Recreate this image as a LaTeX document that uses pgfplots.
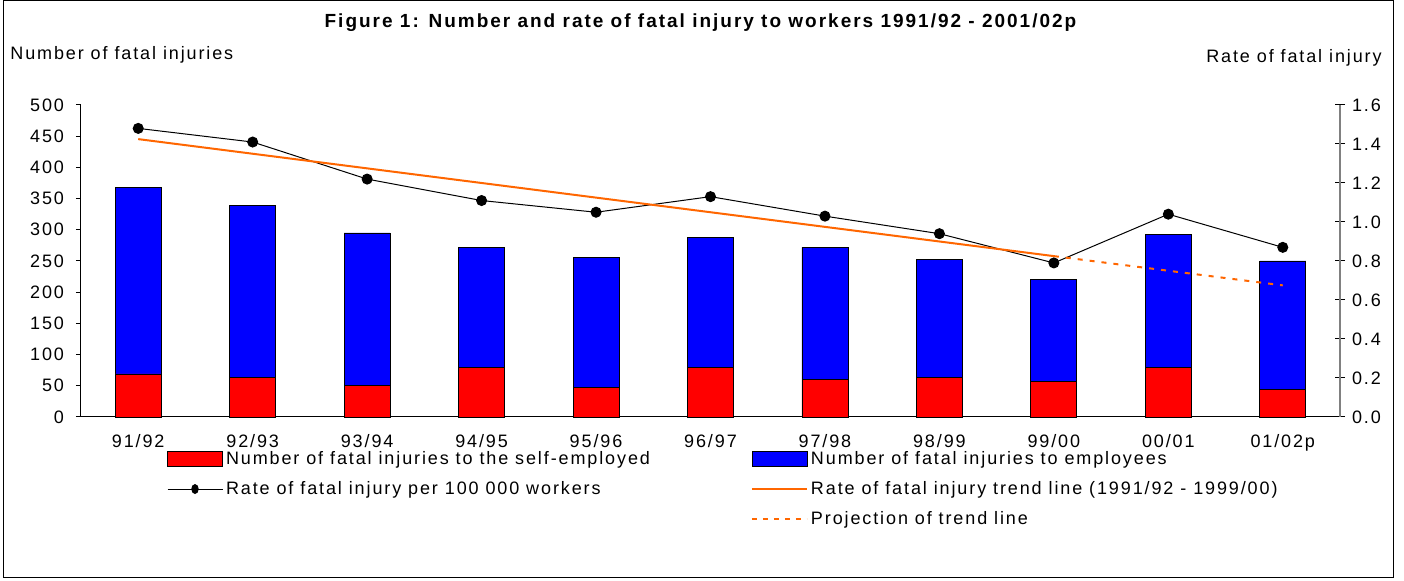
\documentclass[border=0pt]{standalone}
\usepackage{fontspec}
\setmainfont{Liberation Sans}[LetterSpace=10.5]
\usepackage{pgfplots}
\usepackage{pgfplotstable}
\pgfplotsset{compat=1.18}
\definecolor{trendc}{HTML}{FF6600}
\definecolor{axgray}{HTML}{808080}

\pgfplotstableread{
x self emp rate
0 69 299 1.48
1 63 276 1.41
2 51 244 1.22
3 80 192 1.11
4 48 208 1.05
5 80 208 1.13
6 60 212 1.03
7 64 189 0.94
8 57 164 0.79
9 80 212 1.04
10 44 206 0.87
}\data

\pgfplotstableread{
x y
0 1.425
8 0.825
}\trend

\pgfplotstableread{
x y
8 0.825
10 0.675
}\proj

\begin{document}
\begin{tikzpicture}[font=\fontsize{9}{11}\selectfont]
\path (-40.5pt,-82pt) rectangle (661.5pt,208.5pt);
\draw[black,line width=0.5pt] (-38.5pt,-80.5pt) rectangle (656pt,208pt);

\begin{axis}[
  at={(0pt,0pt)}, anchor=south west,
  scale only axis, width=629.5pt, height=156pt,
  xmin=-0.5, xmax=10.5, ymin=0, ymax=500,
  axis x line*=bottom, axis y line*=left,
  axis line style={black, line width=0.5pt},
  ytick={0,50,...,500},
  xtick={0,...,10},
  xticklabels={91/92,92/93,93/94,94/95,95/96,96/97,97/98,98/99,99/00,00/01,01/02p},
  xticklabel style={yshift=-2.5pt},
  yticklabel style={xshift=-2.5pt},
  major x tick style={draw=none},
  extra x ticks={-0.5,0.5,...,10.5},
  extra x tick labels={},
  extra x tick style={major tick length=2.5pt, tick style={black,line width=0.5pt}},
  tick align=outside,
  major tick length=2.5pt,
  tick style={black, line width=0.5pt},
  /pgf/number format/assume math mode=true,
  ybar stacked, bar width=23pt,
  every axis plot/.append style={draw=black, line width=0.4pt},
  clip=false,
]
\addplot[fill=red] table[x=x,y=self] {\data};
\addplot[fill=blue] table[x=x,y=emp] {\data};
\end{axis}

\begin{axis}[
  at={(0pt,0pt)}, anchor=south west,
  scale only axis, width=629.5pt, height=156pt,
  xmin=-0.5, xmax=10.5, ymin=0, ymax=1.6,
  axis x line=none, axis y line*=right,
  axis line style={axgray, line width=0.8pt},
  ytick={0,0.2,...,1.6},
  yticklabel style={/pgf/number format/.cd, fixed, fixed zerofill, precision=1},
  /pgf/number format/assume math mode=true,
  tick align=center,
  major tick length=5pt,
  tick style={black, line width=0.5pt},
  clip=false,
  legend columns=2,
  legend cell align=left,
  legend style={at={(0.068,-0.098)}, anchor=north west, draw=none, fill=none,
    inner sep=0pt, row sep=4pt,
    /tikz/every even column/.append style={column sep=49pt},
    /tikz/row 3/.style={yshift=-2.5pt},
    nodes={inner sep=1.5pt}},
]
\addlegendimage{legend image code/.code={\filldraw[fill=red,draw=black,line width=0.4pt] (0pt,-3.75pt) rectangle (27.5pt,3.75pt);}}
\addlegendentry{Number of fatal injuries to the self-employed}
\addlegendimage{legend image code/.code={\filldraw[fill=blue,draw=black,line width=0.4pt] (0pt,-3.75pt) rectangle (27.5pt,3.75pt);}}
\addlegendentry{Number of fatal injuries to employees}
\addplot[black, line width=0.5pt, mark=*, mark size=2.5pt,
  legend image code/.code={\draw[black,line width=0.5pt] (0pt,0pt)--(27.5pt,0pt); \fill[black] (13.75pt,0pt) ellipse (1.6pt and 2.2pt);}]
  table[x=x,y=rate] {\data};
\addlegendentry{Rate of fatal injury per 100 000 workers}
\addplot[trendc, line width=1pt,
  legend image code/.code={\draw[trendc,line width=1pt] (0pt,0pt)--(27.5pt,0pt);}]
  table[x=x,y=y] {\trend};
\addlegendentry{Rate of fatal injury trend line (1991/92 - 1999/00)}
\addlegendimage{empty legend}
\addlegendentry{}
\addplot[trendc, line width=1pt, dash pattern=on 2.5pt off 3.5pt,
  legend image code/.code={\draw[trendc,line width=1pt,dash pattern=on 2.5pt off 3pt] (0pt,0pt)--(27.5pt,0pt);}]
  table[x=x,y=y] {\proj};
\addlegendentry{Projection of trend line}
\end{axis}

\node[font=\fontsize{9.5}{11}\selectfont\bfseries, anchor=base] at (309.75pt,194.5pt)
  {Figure 1: Number and rate of fatal injury to workers 1991/92 - 2001/02p};
\node[anchor=base west, inner sep=0pt] at (-35.5pt,178.5pt) {Number of fatal injuries};
\node[anchor=base east, inner sep=0pt] at (650.5pt,177pt) {Rate of fatal injury};
\end{tikzpicture}
\end{document}
